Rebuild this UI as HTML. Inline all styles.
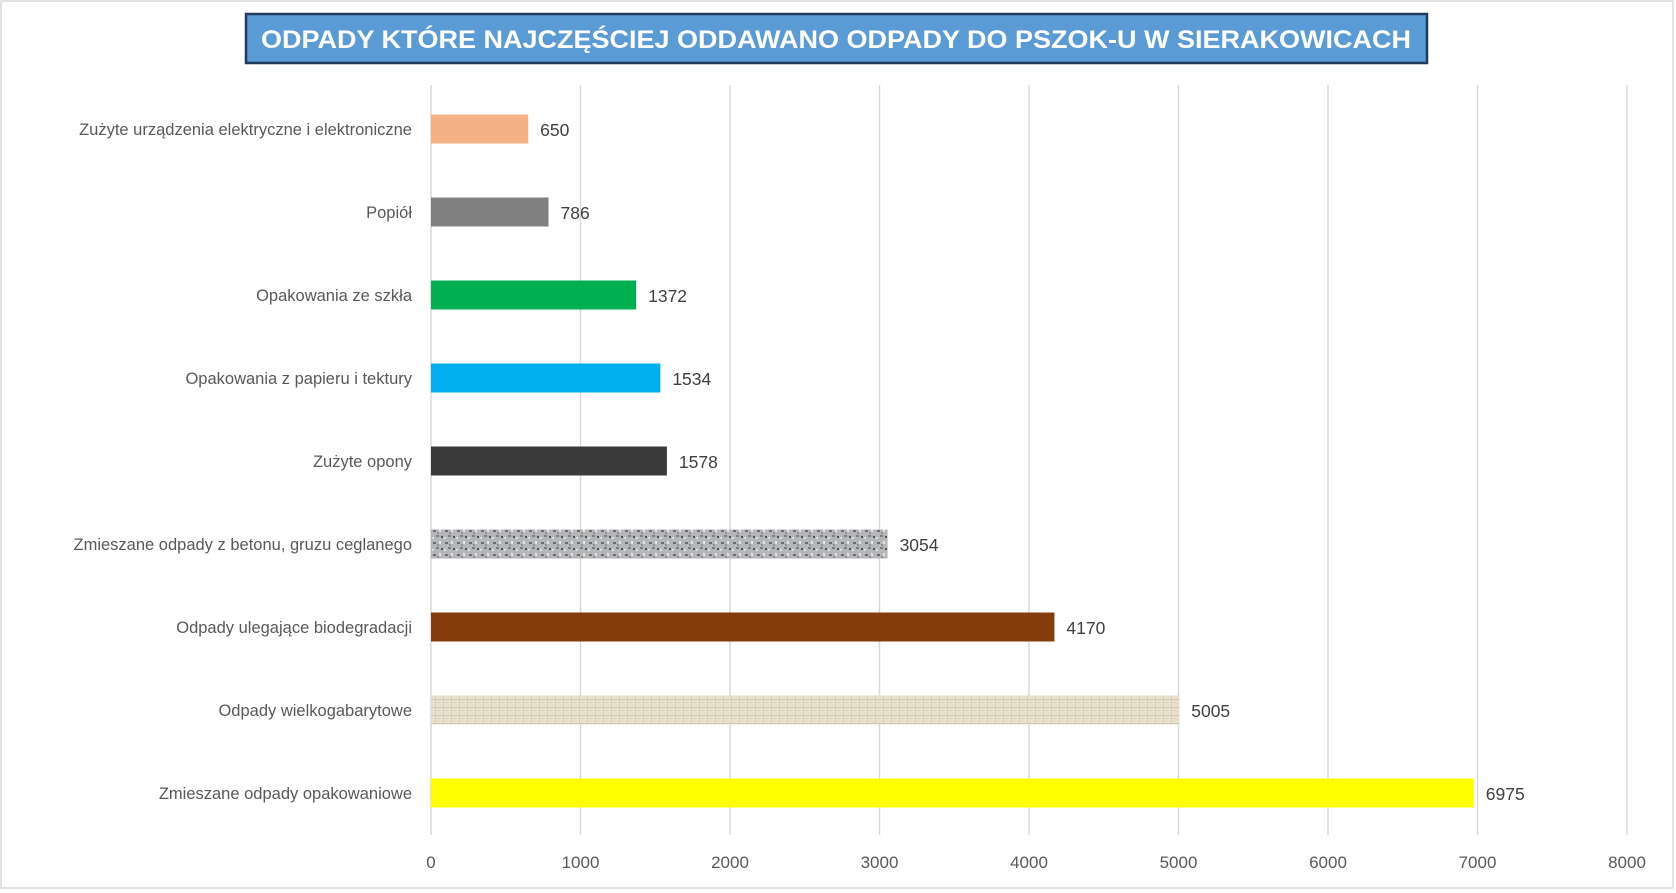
<!DOCTYPE html>
<html><head><meta charset="utf-8"><style>
body{margin:0;background:#fff;}
svg{display:block;font-family:"Liberation Sans",sans-serif;}
</style></head><body>
<svg id="chart" width="1676" height="893">
<defs>
<pattern id="granite" width="12" height="12" patternUnits="userSpaceOnUse">
<rect width="12" height="12" fill="#b4b6b8"/>
<rect x="1" y="2" width="3" height="2" fill="#6a6c6e"/><rect x="7" y="1" width="2" height="3" fill="#e0e2e4"/>
<rect x="4" y="7" width="3" height="2" fill="#7c7e80"/><rect x="9" y="8" width="2" height="2" fill="#505254"/>
<rect x="0" y="9" width="2" height="2" fill="#dcdcdc"/><rect x="5" y="4" width="2" height="2" fill="#909294"/>
</pattern>
<pattern id="linen" width="8" height="8" patternUnits="userSpaceOnUse">
<rect width="8" height="8" fill="#e8dfcc"/>
<rect x="0" y="3" width="8" height="1" fill="#d2c7b0"/><rect x="3" y="0" width="1" height="8" fill="#d8cdb6"/>
<rect x="6" y="6" width="1" height="1" fill="#bfb39a"/>
</pattern>
</defs>
<rect x="1" y="1" width="1672" height="887" fill="#fff" stroke="#d9d9d9" stroke-width="1.5"/>
<rect x="246" y="14" width="1181" height="49" fill="#5b9bd5" stroke="#1f3a5a" stroke-width="2.5"/>
<text x="836" y="48" text-anchor="middle" fill="#fff" font-weight="bold" font-size="25" textLength="1150" lengthAdjust="spacingAndGlyphs">ODPADY KTÓRE NAJCZĘŚCIEJ ODDAWANO ODPADY DO PSZOK-U W SIERAKOWICACH</text>
<g id="grid"></g><g id="bars"></g><g id="labels"></g>
</svg>
<script>
const categories=["Zużyte urządzenia elektryczne i elektroniczne","Popiół","Opakowania ze szkła","Opakowania z papieru i tektury","Zużyte opony","Zmieszane odpady z betonu, gruzu ceglanego","Odpady ulegające biodegradacji","Odpady wielkogabarytowe","Zmieszane odpady opakowaniowe"];
const values=[650,786,1372,1534,1578,3054,4170,5005,6975];
const colors=["#f4b183","#808080","#00b050","#00b0f0","#3a3a3a","url(#granite)","#843c0c","url(#linen)","#ffff00"];
const ticks=[0,1000,2000,3000,4000,5000,6000,7000,8000];
const NS="http://www.w3.org/2000/svg";
const x=v=>431+v*0.1495;
const yc=i=>129+i*83;
const grid=document.getElementById('grid'),bars=document.getElementById('bars'),labels=document.getElementById('labels');
function mk(tag,attrs,parent,txt){const e=document.createElementNS(NS,tag);for(const k in attrs)e.setAttribute(k,attrs[k]);if(txt!==undefined)e.textContent=txt;parent.appendChild(e);return e;}
ticks.forEach(t=>{
 const l=mk('line',{x1:x(t),x2:x(t),y1:85,y2:835,stroke:'#d9d9d9','stroke-width':1.5},grid);
 
 
 const tx=mk('text',{x:x(t),y:868,'text-anchor':'middle','font-size':17,fill:'#595959'},labels,String(t));
 
 
});
categories.forEach((c,i)=>{
 const r=mk('rect',{x:x(0),y:yc(i)-14.5,width:x(values[i])-x(0),height:29,fill:colors[i]},bars);
 
 
 const cl=mk('text',{x:412,y:yc(i)+6,'text-anchor':'end','font-size':16.5,fill:'#595959'},labels,c);
 
 
 const vl=mk('text',{x:x(values[i])+12,y:yc(i)+7,'font-size':17.5,fill:'#404040'},labels,String(values[i]));
 
 
});
</script>
</body></html>
